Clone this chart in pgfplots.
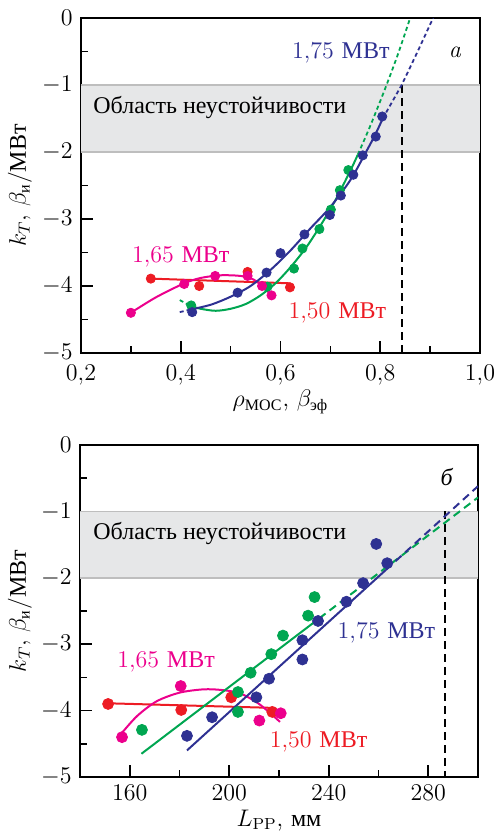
\documentclass[border=0pt]{standalone}
\usepackage{fontspec}
\usepackage{amsmath}
\usepackage{pgfplots}
\pgfplotsset{compat=1.18}
\newfontfamily\cyr{Liberation Serif}
\definecolor{cblue}{RGB}{46,49,146}
\definecolor{cgreen}{RGB}{0,166,81}
\definecolor{cpink}{RGB}{236,0,140}
\definecolor{cred}{RGB}{237,28,36}
\definecolor{band}{RGB}{230,231,232}
\definecolor{bandline}{RGB}{190,190,190}
\pgfplotsset{
  myaxis/.style={
    scale only axis,
    axis line style={line width=0.9pt},
    tick align=inside,
    xtick pos=left, ytick pos=left,
    ymin=-5, ymax=0,
    ytick={-5,-4,-3,-2,-1,0},
    minor ytick={-4.5,-3.5,-2.5,-1.5,-0.5},
    major tick length=6pt, minor tick length=3.5pt,
    every tick/.style={black, line width=0.8pt},
    yticklabel style={inner sep=1pt, xshift=-3pt},
    ylabel={$k_T$, $\beta_{\text{\cyr и}}$/{\cyr МВт}},
  },
  curve/.style={line width=1pt},
  dsh/.style={line width=0.9pt, dash pattern=on 2pt off 1.5pt},
  dshb/.style={line width=1pt, dash pattern=on 4pt off 2.5pt},
  vdash/.style={black, line width=1pt, dash pattern=on 4pt off 2.5pt},
}
\begin{document}
\begin{tikzpicture}[font=\fontsize{12}{14}\selectfont]
\useasboundingbox (0,0) rectangle (248pt,418pt);
% ---------------- top panel ----------------
\begin{axis}[myaxis,
  at={(40.5pt,241.5pt)}, anchor=south west,
  width=199.5pt, height=167.5pt,
  xmin=0.2, xmax=1.0,
  xtick={0.2,0.4,0.6,0.8,1.0}, minor xtick={0.3,0.5,0.7,0.9},
  xticklabel style={inner sep=1pt, yshift=-5pt, /pgf/number format/.cd, use comma, fixed, fixed zerofill, precision=1},
  xlabel={$\rho_{\text{\cyr МОС}}$, $\beta_{\text{\cyr эф}}$},
  every axis x label/.style={at={(axis description cs:0.5,-0.146)}, anchor=center},
  every axis y label/.style={at={(axis description cs:-0.153,0.5)}, anchor=center, rotate=90},
]
\addplot[fill=band, draw=none] coordinates {(0.2,-2) (0.2,-1) (1.0,-1) (1.0,-2)} -- cycle;
\addplot[bandline, line width=0.7pt] coordinates {(0.2,-1) (1.0,-1)};
\addplot[bandline, line width=0.7pt] coordinates {(0.2,-2) (1.0,-2)};
\addplot[vdash] coordinates {(0.843,-1) (0.843,-5)};
% red
\addplot[cred, curve] coordinates {(0.34,-3.89) (0.62,-3.96)};
% pink
\addplot[cpink, curve, smooth] coordinates {(0.30,-4.40) (0.35,-4.17) (0.407,-3.96) (0.44,-3.88) (0.48,-3.84) (0.52,-3.85) (0.545,-3.90) (0.563,-4.00) (0.582,-4.14)};
% green
\addplot[cgreen, dsh] coordinates {(0.398,-4.21) (0.42,-4.30)};
\addplot[cgreen, curve, smooth] coordinates {(0.42,-4.30) (0.44,-4.34) (0.47,-4.37) (0.50,-4.34) (0.53,-4.27) (0.56,-4.14) (0.59,-3.96) (0.62,-3.72) (0.65,-3.44) (0.68,-3.10) (0.71,-2.72) (0.74,-2.28) (0.755,-2.04)};
\addplot[cgreen, dsh, smooth] coordinates {(0.755,-2.04) (0.78,-1.61) (0.81,-1.05) (0.835,-0.55) (0.86,0.0)};
% blue
\addplot[cblue, dsh] coordinates {(0.398,-4.39) (0.42,-4.35)};
\addplot[cblue, curve, smooth] coordinates {(0.42,-4.35) (0.46,-4.28) (0.50,-4.16) (0.54,-4.00) (0.58,-3.76) (0.62,-3.47) (0.66,-3.14) (0.70,-2.82) (0.74,-2.42) (0.77,-2.02) (0.79,-1.74) (0.805,-1.50)};
\addplot[cblue, dsh] coordinates {(0.805,-1.50) (0.843,-1.0) (0.875,-0.50) (0.906,0.0)};
% points
\addplot[cred, only marks, mark=*, mark size=2.3pt] coordinates {(0.340,-3.89) (0.437,-4.00) (0.534,-3.79) (0.619,-4.02)};
\addplot[cgreen, only marks, mark=*, mark size=2.3pt] coordinates {(0.421,-4.29) (0.574,-4.01) (0.627,-3.74) (0.644,-3.44) (0.678,-3.15) (0.701,-2.86) (0.719,-2.57) (0.736,-2.27)};
\addplot[cblue, only marks, mark=*, mark size=2.3pt] coordinates {(0.423,-4.39) (0.514,-4.10) (0.572,-3.80) (0.600,-3.51) (0.648,-3.23) (0.699,-2.94) (0.721,-2.65) (0.746,-2.34) (0.765,-2.05) (0.791,-1.77) (0.804,-1.47)};
\addplot[cpink, only marks, mark=*, mark size=2.3pt] coordinates {(0.300,-4.40) (0.407,-3.97) (0.469,-3.85) (0.534,-3.85) (0.563,-4.00) (0.582,-4.14)};
\node[cblue, anchor=center] at (axis cs:0.721,-0.52) {1,75 {\cyr МВт}};
\node[anchor=center] at (axis cs:0.95,-0.51) {\textit{a}};
\node[anchor=west, inner sep=0pt] at (axis cs:0.224,-1.34) {\cyr Область неустойчивости};
\node[cpink, anchor=center] at (axis cs:0.400,-3.57) {1,65 {\cyr МВт}};
\node[cred, anchor=center] at (axis cs:0.714,-4.40) {1,50 {\cyr МВт}};
\end{axis}
% ---------------- bottom panel ----------------
\begin{axis}[myaxis,
  at={(40pt,29.5pt)}, anchor=south west,
  width=199pt, height=166pt,
  xmin=140, xmax=300,
  xtick={160,200,240,280}, minor xtick={180,220,260},
  xticklabel style={inner sep=1pt, yshift=-3pt},
  xlabel={$L_{\mathrm{PP}}$, {\cyr мм}},
  every axis x label/.style={at={(axis description cs:0.5,-0.13)}, anchor=center},
  every axis y label/.style={at={(axis description cs:-0.151,0.5)}, anchor=center, rotate=90},
]
\addplot[fill=band, draw=none] coordinates {(140,-2) (140,-1) (300,-1) (300,-2)} -- cycle;
\addplot[bandline, line width=0.7pt] coordinates {(140,-1) (300,-1)};
\addplot[bandline, line width=0.7pt] coordinates {(140,-2) (300,-2)};
\addplot[vdash] coordinates {(286.6,-1) (286.6,-5)};
% red
\addplot[cred, curve] coordinates {(151.4,-3.89) (218.4,-3.96)};
% pink
\addplot[cpink, curve, smooth] coordinates {(157,-4.33) (163,-4.08) (170.8,-3.86) (180,-3.73) (189.6,-3.68) (197,-3.69) (204.3,-3.74) (212,-3.90) (220.4,-4.17)};
% green
\addplot[cgreen, curve] coordinates {(164.7,-4.65) (232,-2.73)};
\addplot[cgreen, dshb] coordinates {(232,-2.73) (300,-0.79)};
% blue
\addplot[cblue, curve] coordinates {(183,-4.60) (263,-1.88)};
\addplot[cblue, dshb] coordinates {(263,-1.88) (300,-0.62)};
% points
\addplot[cred, only marks, mark=*, mark size=2.75pt] coordinates {(151.3,-3.90) (180.7,-3.99) (200.8,-3.80) (217.3,-4.02)};
\addplot[cgreen, only marks, mark=*, mark size=2.75pt] coordinates {(164.9,-4.29) (203.5,-3.72) (203.5,-4.02) (208.6,-3.43) (216.9,-3.15) (221.6,-2.87) (231.7,-2.57) (234.3,-2.29)};
\addplot[cblue, only marks, mark=*, mark size=2.75pt] coordinates {(183.0,-4.38) (193.1,-4.10) (210.9,-3.80) (216.0,-3.52) (229.4,-2.94) (229.4,-3.23) (235.7,-2.65) (247.1,-2.36) (253.8,-2.08) (259.1,-1.49) (263.5,-1.78)};
\addplot[cpink, only marks, mark=*, mark size=2.75pt] coordinates {(156.9,-4.40) (180.5,-3.63) (212.1,-4.15) (220.7,-4.04)};
\node[anchor=center] at (axis cs:287.5,-0.48) {\textit{{\cyr б}}};
\node[anchor=west, inner sep=0pt] at (axis cs:145.2,-1.33) {\cyr Область неустойчивости};
\node[cblue, anchor=center] at (axis cs:263.2,-2.82) {1,75 {\cyr МВт}};
\node[cpink, anchor=center] at (axis cs:174.6,-3.27) {1,65 {\cyr МВт}};
\node[cred, anchor=center] at (axis cs:235.9,-4.47) {1,50 {\cyr МВт}};
\end{axis}
\end{tikzpicture}
\end{document}
